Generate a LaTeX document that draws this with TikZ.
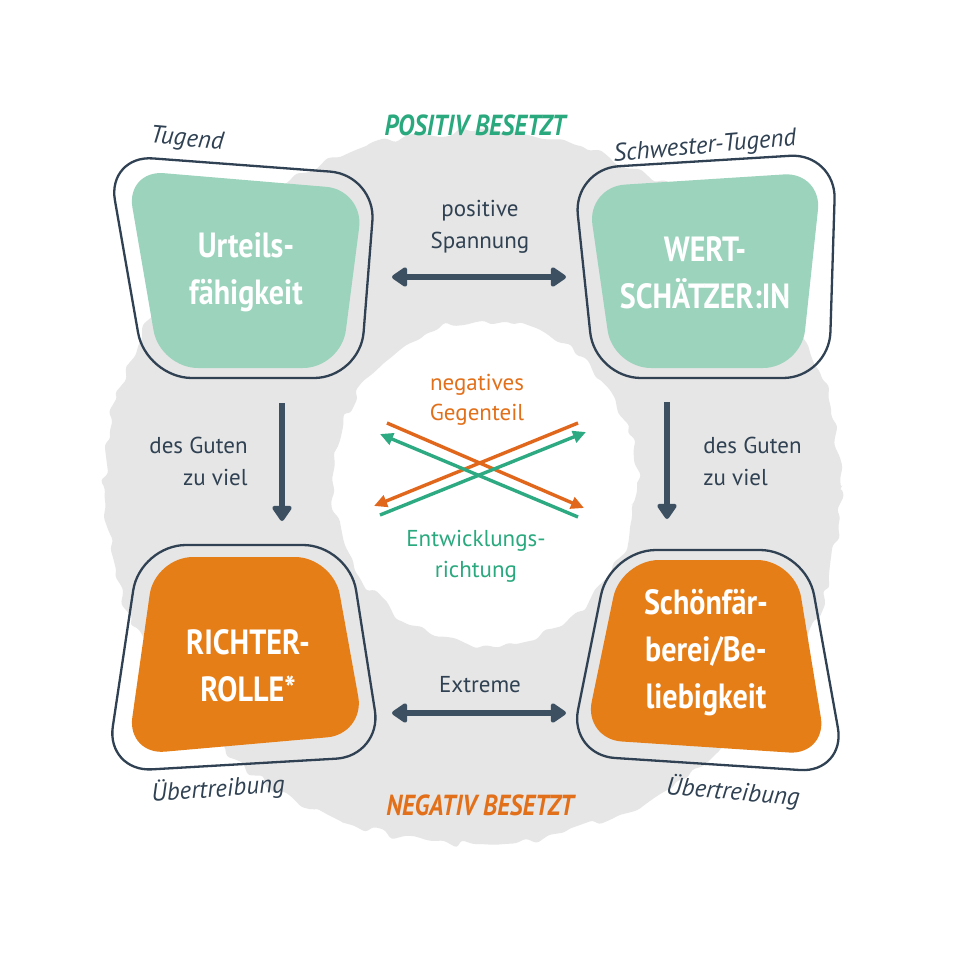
\documentclass[tikz,border=0pt]{standalone}
\usepackage{fontspec}
\setmainfont{PT Sans}
\newfontfamily\condfont{PT Sans}[FakeStretch=0.86]
\usetikzlibrary{arrows.meta,decorations.pathmorphing}
\definecolor{ink}{HTML}{2F4152}
\definecolor{arrowc}{HTML}{3D5062}
\definecolor{mint}{HTML}{9BD3BC}
\definecolor{orng}{HTML}{E67E18}
\definecolor{greentxt}{HTML}{2BA97E}
\definecolor{orngtxt}{HTML}{E2701A}
\definecolor{orngarrow}{HTML}{E0671B}
\definecolor{greenarrow}{HTML}{2EAA83}
\definecolor{ringgrey}{HTML}{E6E6E6}
\begin{document}
\begin{tikzpicture}[x=0.5pt,y=-0.5pt,
  outline/.style={draw=ink, line width=1.15pt, rounded corners=23pt},
  innermint/.style={fill=mint, rounded corners=19pt},
  innerorng/.style={fill=orng, rounded corners=19pt},
  bigarrow/.style={draw=arrowc, line width=3pt},
  bighead/.tip={Triangle[length=8.5pt,width=11pt,round]},
  crossarrow/.style={line width=1.7pt, -{Triangle[length=6.5pt,width=6pt]}},
  lbl/.style={text=ink, font=\fontsize{11.5}{16}\selectfont, align=center, inner sep=0pt},
  tag/.style={text=ink, font=\itshape\fontsize{12.5}{14}\selectfont, inner sep=0pt},
  boxtext/.style={text=white, font=\condfont\bfseries\fontsize{17.5}{23.5}\selectfont, align=center, inner sep=0pt},
  headline/.style={font=\condfont\bfseries\itshape\fontsize{14.5}{16}\selectfont, inner sep=0pt}
]
\useasboundingbox (0,0) rectangle (960,960);
\fill[white] (0,0) rectangle (960,960);
% grey brush ring
\pgfmathsetseed{7}
\fill[ringgrey, even odd rule, rounded corners=1.5pt, decorate,
  decoration={random steps, segment length=5pt, amplitude=2.2pt}]
  (473,488) ellipse [x radius=184pt, y radius=178pt]
  (485,483) ellipse [x radius=76pt, y radius=81pt];

% boxes
\draw[outline] (107,155) -- (376,175) -- (360,378) -- (146,378) -- cycle;
\fill[innermint] (126,170) -- (364,190) -- (341,368) -- (160,368) -- cycle;

\draw[outline] (573,169) -- (836,153) -- (829,378) -- (595,378) -- cycle;
\fill[innermint] (587,187) -- (822,172) -- (801,368) -- (613,368) -- cycle;

\draw[outline] (140,545) -- (349,545) -- (382,756) -- (106,772) -- cycle;
\fill[innerorng] (155,557) -- (333,557) -- (365,734) -- (127,755) -- cycle;

\draw[outline] (610,550) -- (806,550) -- (846,773) -- (569,755) -- cycle;
\fill[innerorng] (621,560) -- (795,560) -- (827,755) -- (584,739) -- cycle;

% box texts
\node[boxtext] (tugendtxt) at (246,272) {Urteils-\\fähigkeit};
\node[boxtext] (schwestertxt) at (705,273) {WERT-\\SCHÄTZER:IN};
\node[boxtext] (richtertxt) at (248,666) {RICHTER-\\ROLLE*};
\node[boxtext] (schoentxt) at (706,653) {Schönfär-\\berei/Be-\\liebigkeit};

% tags
\node[tag, rotate=-5] (tugend) at (187,140) {Tugend};
\node[tag, rotate=5] (schwester) at (705,147) {Schwester-Tugend};
\node[tag, rotate=4] (uebl) at (218,789) {Übertreibung};
\node[tag, rotate=-5] (uebr) at (733,792) {Übertreibung};

\node[headline, text=greentxt] (pos) at (475,125) {POSITIV BESETZT};
\node[headline, text=orngtxt] (neg) at (480,805) {NEGATIV BESETZT};

% labels
\node[lbl] (spann) at (480,227) {positive\\Spannung};
\node[lbl] (extr) at (480,685) {Extreme};
\node[lbl, anchor=east, align=right] (gutl) at (248,461) {des Guten\\zu viel};
\node[lbl, anchor=west, align=left] (gutr) at (703,461) {des Guten\\zu viel};
\node[lbl, text=orngtxt, font=\fontsize{11.5}{15}\selectfont] (negg) at (477,400) {negatives\\Gegenteil};
\node[lbl, text=greentxt, font=\fontsize{11.5}{15.5}\selectfont] (entw) at (476,556) {Entwicklungs-\\richtung};

% big arrows
\coordinate (ta) at (392,277); \coordinate (tb) at (566,277);
\coordinate (ba) at (392,713); \coordinate (bb) at (566,713);
\coordinate (la) at (282,403); \coordinate (lb) at (282,521);
\coordinate (ra) at (667,402); \coordinate (rb) at (667,519);
\draw[bigarrow, bighead-bighead] (ta) -- (tb);
\draw[bigarrow, bighead-bighead] (ba) -- (bb);
\draw[bigarrow, -bighead] (la) -- (lb);
\draw[bigarrow, -bighead] (ra) -- (rb);

% cross arrows
\coordinate (o1a) at (387,423); \coordinate (o1b) at (584,508);
\coordinate (o2a) at (578,423); \coordinate (o2b) at (374,506);
\coordinate (g1a) at (578,517); \coordinate (g1b) at (380,434);
\coordinate (g2a) at (380,515); \coordinate (g2b) at (586,432);
\draw[crossarrow, orngarrow] (o1a) -- (o1b);
\draw[crossarrow, orngarrow] (o2a) -- (o2b);
\draw[crossarrow, greenarrow] (g1a) -- (g1b);
\draw[crossarrow, greenarrow] (g2a) -- (g2b);
\end{tikzpicture}
\end{document}
